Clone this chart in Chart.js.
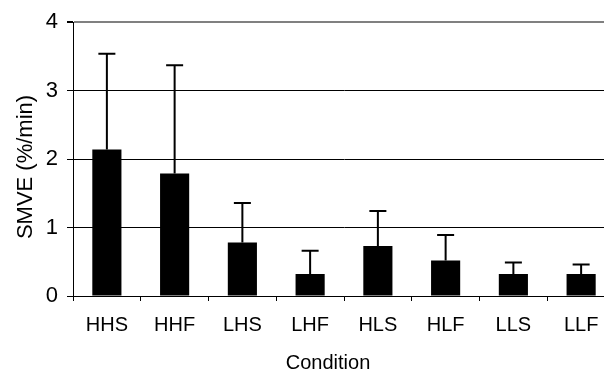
<!DOCTYPE html>
<html>
<head>
<meta charset="utf-8">
<script src="https://cdn.jsdelivr.net/npm/chart.js@4"></script>
<style>
html, body { margin: 0; padding: 0; background: #fff; overflow: hidden; }
#wrap { width: 620px; height: 375px; position: relative; }
</style>
</head>
<body>
<div id="wrap"><canvas id="chart"></canvas></div>
<script>
// data
const categories = ['HHS', 'HHF', 'LHS', 'LHF', 'HLS', 'HLF', 'LLS', 'LLF'];
const means = [2.14, 1.79, 0.78, 0.32, 0.73, 0.52, 0.32, 0.32];
const upperErr = [3.54, 3.37, 1.36, 0.66, 1.24, 0.89, 0.49, 0.46];
const yTicks = [0, 1, 2, 3, 4];
const yTitle = 'SMVE (%/min)';
const xTitle = 'Condition';

const FONT = "'Liberation Sans', Arial, sans-serif";

// upper error bars with a cap
const errorBars = {
  id: 'errorBars',
  afterDatasetsDraw(chart) {
    const { ctx, scales: { x, y } } = chart;
    ctx.save();
    ctx.strokeStyle = '#000';
    ctx.lineWidth = 2;
    means.forEach((m, i) => {
      const px = x.getPixelForValue(i);
      const yBar = y.getPixelForValue(m);
      const yTop = y.getPixelForValue(upperErr[i]);
      ctx.beginPath();
      ctx.moveTo(px, yBar);
      ctx.lineTo(px, yTop);
      ctx.moveTo(px - 8.5, yTop);
      ctx.lineTo(px + 8.5, yTop);
      ctx.stroke();
    });
    ctx.restore();
  }
};

// axis titles: the original has them off the axis centres (plot is cut on the right)
const axisTitles = {
  id: 'axisTitles',
  afterDraw(chart) {
    const { ctx } = chart;
    ctx.save();
    ctx.fillStyle = '#000';
    ctx.textAlign = 'center';
    ctx.textBaseline = 'middle';
    ctx.font = '20px ' + FONT;
    ctx.fillText(xTitle, 328, 363);
    ctx.translate(26, 167);
    ctx.rotate(-Math.PI / 2);
    ctx.font = '22px ' + FONT;
    ctx.fillText(yTitle, 0, 0);
    ctx.restore();
  }
};

new Chart(document.getElementById('chart'), {
  type: 'bar',
  data: {
    labels: categories,
    datasets: [{
      data: means,
      backgroundColor: '#000',
      borderWidth: 0,
      barPercentage: 0.43,
      categoryPercentage: 1
    }]
  },
  options: {
    responsive: true,
    maintainAspectRatio: false,
    animation: false,
    layout: { padding: { top: 19, right: 5, left: 0, bottom: 0 } },
    plugins: { legend: { display: false }, tooltip: { enabled: false } },
    scales: {
      x: {
        afterFit: s => { s.height = 79; },
        border: { color: '#000', width: 1 },
        grid: { drawOnChartArea: false, drawTicks: true, tickLength: 5, color: '#000' },
        ticks: { color: '#000', font: { family: FONT, size: 20 }, padding: 12 }
      },
      y: {
        min: 0,
        max: 4,
        afterFit: s => { s.width = 73; },
        afterBuildTicks: s => { s.ticks = yTicks.map(v => ({ value: v })); },
        border: { color: '#000', width: 1 },
        grid: {
          color: c => c.tick && c.tick.value === 4 ? '#808080' : '#000',
          lineWidth: c => c.tick && c.tick.value === 4 ? 2 : 1,
          tickColor: '#000',
          tickLength: 6
        },
        ticks: { color: '#000', font: { family: FONT, size: 22 }, padding: 9 }
      }
    }
  },
  plugins: [errorBars, axisTitles]
});
</script>
</body>
</html>
